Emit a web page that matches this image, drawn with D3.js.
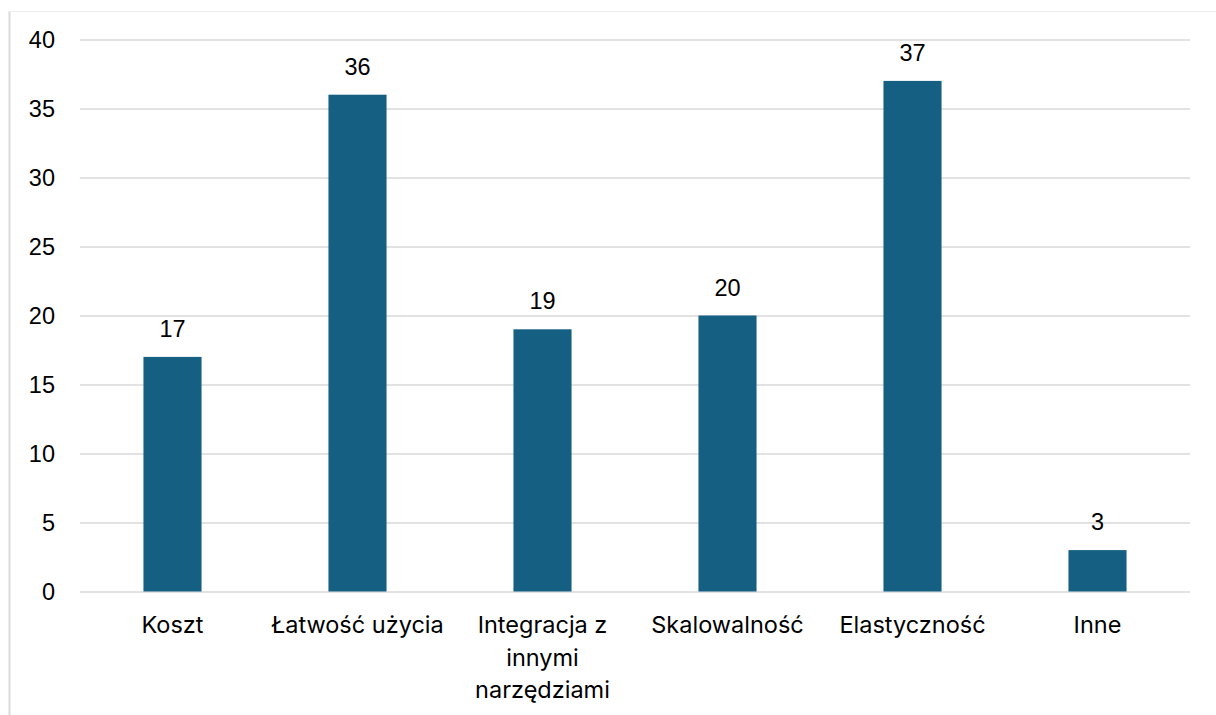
<!DOCTYPE html>
<html>
<head>
<meta charset="utf-8">
<script src="https://cdn.jsdelivr.net/npm/d3@7"></script>
<style>
  html, body { margin: 0; padding: 0; background: #ffffff; }
  svg { display: block; }
</style>
</head>
<body>
<svg id="chart" width="1216" height="715"></svg>
<script>
// Survey answers: what matters most when choosing a tool
const categories = ["Koszt", "Łatwość użycia", "Integracja z innymi narzędziami", "Skalowalność", "Elastyczność", "Inne"];
const categoryLines = [["Koszt"], ["Łatwość użycia"], ["Integracja z", "innymi", "narzędziami"], ["Skalowalność"], ["Elastyczność"], ["Inne"]];
const counts = [17, 36, 19, 20, 37, 3];
const yTicks = [0, 5, 10, 15, 20, 25, 30, 35, 40];

const W = 1216, H = 715;
const plot = { left: 80, right: 1190, top: 39.5, bottom: 591.5 };
const barColor = "#156082";
const gridColor = "#d9d9d9";
const numFont = "'Liberation Sans', Arial, sans-serif";
const catFont = "Inter, 'Open Sans', sans-serif";

const svg = d3.select("#chart");

// chart frame (left and top edges)
svg.append("line").attr("x1", 9.5).attr("x2", 9.5).attr("y1", 11).attr("y2", H)
  .attr("stroke", "#d9d9d9").attr("stroke-width", 2);
svg.append("line").attr("x1", 9).attr("x2", W).attr("y1", 11.5).attr("y2", 11.5)
  .attr("stroke", "#eeeeee").attr("stroke-width", 1);

const x = d3.scaleBand()
  .domain(categories)
  .range([plot.left, plot.right])
  .paddingInner(0.686)
  .paddingOuter(0.343);

const y = d3.scaleLinear()
  .domain([0, 40])
  .range([plot.bottom, plot.top]);

// horizontal gridlines with tick labels
const yAxis = d3.axisLeft(y)
  .tickValues(yTicks)
  .tickSize(-(plot.right - plot.left))
  .tickPadding(25)
  .tickFormat(d3.format("d"));

const gy = svg.append("g")
  .attr("transform", `translate(${plot.left},0)`)
  .call(yAxis);
gy.select(".domain").remove();
gy.selectAll(".tick line").attr("stroke", gridColor).attr("stroke-width", 1.5);
gy.selectAll(".tick text")
  .attr("fill", "#000")
  .style("font-family", numFont)
  .style("font-size", "23.5px");

// bars
svg.append("g").selectAll("rect")
  .data(categories)
  .join("rect")
  .attr("x", d => x(d))
  .attr("width", x.bandwidth())
  .attr("y", (d, i) => y(counts[i]))
  .attr("height", (d, i) => y(0) - y(counts[i]))
  .attr("fill", barColor);

// value labels above bars
svg.append("g").selectAll("text")
  .data(categories)
  .join("text")
  .attr("x", d => x(d) + x.bandwidth() / 2)
  .attr("y", (d, i) => y(counts[i]) - 20)
  .attr("text-anchor", "middle")
  .style("font-family", numFont)
  .style("font-size", "23.5px")
  .attr("fill", "#000")
  .text((d, i) => counts[i]);

// category labels, wrapped onto several lines where needed
const catG = svg.append("g").selectAll("text")
  .data(categories)
  .join("text")
  .attr("x", d => x(d) + x.bandwidth() / 2)
  .attr("y", 633)
  .attr("text-anchor", "middle")
  .style("font-family", catFont)
  .style("font-size", "23.5px")
  .attr("fill", "#000");

catG.each(function(d, i) {
  const t = d3.select(this);
  categoryLines[i].forEach((line, j) => {
    t.append("tspan")
      .attr("x", x(d) + x.bandwidth() / 2)
      .attr("y", 633 + j * 32.5)
      .text(line);
  });
});
</script>
</body>
</html>
